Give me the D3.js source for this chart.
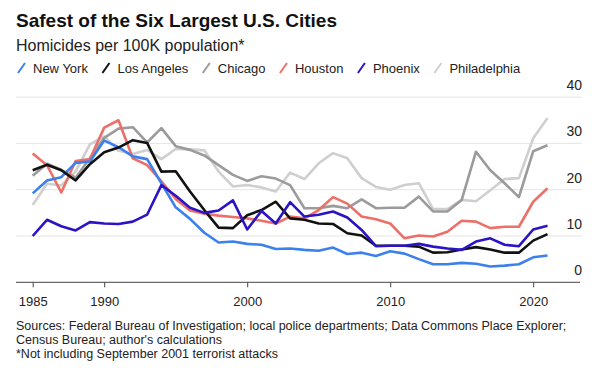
<!DOCTYPE html>
<html>
<head>
<meta charset="utf-8">
<script src="https://cdn.jsdelivr.net/npm/d3@7"></script>
<style>
  body { margin: 0; background: #fff; }
  svg { display: block; font-family: "Liberation Sans", Arial, sans-serif; }
</style>
</head>
<body>
<div id="vis"></div>
<script>
// chart values
const YEARS = [1985, 1986, 1987, 1988, 1989, 1990, 1991, 1992, 1993, 1994,
               1995, 1996, 1997, 1998, 1999, 2000, 2001, 2002, 2003, 2004,
               2005, 2006, 2007, 2008, 2009, 2010, 2011, 2012, 2013, 2014,
               2015, 2016, 2017, 2018, 2019, 2020, 2021];

const NEW_YORK = [19.2, 22.0, 22.7, 25.8, 26.1, 30.6, 29.2, 27.2, 26.6, 21.4,
                  16.2, 13.7, 10.7, 8.6, 8.8, 8.3, 8.1, 7.2, 7.3, 7.0,
                  6.8, 7.5, 6.1, 6.4, 5.7, 6.7, 6.2, 5.0, 3.9, 3.9,
                  4.2, 4.0, 3.4, 3.6, 3.9, 5.4, 5.8];
const LOS_ANGELES = [24.2, 25.4, 24.2, 22.0, 25.5, 28.1, 29.1, 30.7, 30.1, 23.9,
                     24.0, 19.6, 15.6, 11.8, 11.7, 14.5, 15.6, 17.4, 13.8, 13.5,
                     12.7, 12.6, 10.6, 10.1, 7.9, 7.9, 7.9, 7.7, 6.4, 6.5,
                     7.1, 7.6, 7.1, 6.4, 6.4, 9.0, 10.4];
const CHICAGO = [23.0, 25.6, 24.3, 22.6, 26.8, 31.2, 33.2, 33.5, 30.2, 33.3,
                 29.4, 28.6, 27.4, 25.3, 23.2, 21.9, 22.9, 22.4, 21.0, 16.0,
                 16.0, 16.5, 16.0, 17.9, 16.0, 16.1, 16.1, 18.5, 15.3, 15.3,
                 17.8, 28.2, 24.2, 21.4, 18.4, 28.3, 29.6];
const HOUSTON = [27.8, 25.3, 19.4, 26.2, 26.6, 33.4, 35.0, 26.8, 25.3, 21.8,
                 18.0, 15.5, 14.8, 14.4, 14.1, 13.8, 13.3, 12.7, 14.2, 13.8,
                 15.6, 18.4, 17.0, 14.2, 13.6, 12.7, 9.5, 10.1, 9.9, 10.9,
                 13.3, 13.1, 11.7, 12.0, 12.0, 17.4, 20.3];
const PHOENIX = [10.0, 13.5, 12.1, 11.2, 13.0, 12.7, 12.6, 13.1, 14.6, 21.0,
                 18.7, 16.1, 15.0, 15.5, 17.7, 11.4, 15.4, 12.7, 17.3, 14.2,
                 14.6, 15.3, 14.0, 11.3, 7.8, 7.9, 7.9, 8.3, 7.7, 7.3,
                 7.0, 8.8, 9.5, 8.1, 7.8, 11.4, 12.2];
const PHILADELPHIA = [16.7, 21.3, 20.9, 23.9, 29.8, 31.5, 28.4, 27.7, 28.6, 26.6,
                      28.8, 28.7, 28.5, 23.9, 20.7, 21.0, 20.5, 19.6, 23.7, 22.3,
                      25.7, 27.9, 26.8, 22.5, 20.6, 20.0, 21.0, 21.4, 15.8, 15.8,
                      17.8, 17.5, 19.9, 22.3, 22.5, 31.1, 35.5];

const CITIES = ["New York", "Los Angeles", "Chicago", "Houston", "Phoenix", "Philadelphia"];
const X_TICKS = [1985, 1990, 2000, 2010, 2020];
const Y_TICKS = [0, 10, 20, 30, 40];

const COLORS = {
  "New York": "#3c80ee",
  "Los Angeles": "#111111",
  "Chicago": "#9b9b9b",
  "Houston": "#ec7068",
  "Phoenix": "#2b13c6",
  "Philadelphia": "#cfcfcf"
};

const series = [
  {name: "Philadelphia", values: PHILADELPHIA},
  {name: "Chicago", values: CHICAGO},
  {name: "Houston", values: HOUSTON},
  {name: "New York", values: NEW_YORK},
  {name: "Los Angeles", values: LOS_ANGELES},
  {name: "Phoenix", values: PHOENIX}
];

const FRAME_WIDTH = 600;
const FRAME_HEIGHT = 368;

const svg = d3.select("#vis")
  .append("svg")
    .attr("width", FRAME_WIDTH)
    .attr("height", FRAME_HEIGHT);

const X_SCALE = d3.scaleLinear().domain([1985, 2021]).range([32.7, 547.5]);
const Y_SCALE = d3.scaleLinear().domain([0, 40]).range([282.3, 97.1]);

// title block
svg.append("text")
  .attr("x", 16).attr("y", 27)
  .attr("font-size", 19).attr("font-weight", "bold").attr("fill", "#111")
  .text("Safest of the Six Largest U.S. Cities");

svg.append("text")
  .attr("x", 16).attr("y", 51)
  .attr("font-size", 16).attr("fill", "#222")
  .text("Homicides per 100K population*");

// legend, laid out from measured text widths
let lx = 18;
CITIES.forEach((c) => {
  const g = svg.append("g");
  g.append("line")
    .attr("x1", lx).attr("y1", 73)
    .attr("x2", lx + 7).attr("y2", 63)
    .attr("stroke", COLORS[c]).attr("stroke-width", 2);
  const t = g.append("text")
    .attr("x", lx + 15).attr("y", 73)
    .attr("font-size", 13).attr("fill", "#222")
    .text(c);
  lx = lx + 15 + t.node().getComputedTextLength() + 14.5;
});

// gridlines + right-side labels
svg.append("g")
  .selectAll("line")
  .data(Y_TICKS.filter((d) => d > 0))
  .enter()
  .append("line")
    .attr("x1", 16).attr("x2", 582)
    .attr("y1", (d) => Y_SCALE(d)).attr("y2", (d) => Y_SCALE(d))
    .attr("stroke", "#e6e6e6").attr("stroke-width", 1);

svg.append("g")
  .selectAll("text")
  .data(Y_TICKS)
  .enter()
  .append("text")
    .attr("x", 582)
    .attr("y", (d) => Y_SCALE(d) - 7)
    .attr("text-anchor", "end")
    .attr("font-size", 14).attr("fill", "#222")
    .text((d) => d);

// lines
const line = d3.line()
  .x((d, i) => X_SCALE(YEARS[i]))
  .y((d) => Y_SCALE(d));

svg.append("g")
  .selectAll("path")
  .data(series)
  .enter()
  .append("path")
    .attr("d", (d) => line(d.values))
    .attr("fill", "none")
    .attr("stroke", (d) => COLORS[d.name])
    .attr("stroke-width", 2.6)
    .attr("stroke-linejoin", "round");

// x axis
const xAxis = svg.append("g")
  .attr("transform", "translate(0," + Y_SCALE(0) + ")")
  .call(d3.axisBottom(X_SCALE).tickValues(X_TICKS).tickFormat(d3.format("d")).tickSize(5).tickPadding(9));
xAxis.select(".domain").remove();
xAxis.selectAll(".tick line").attr("stroke", "#444");
xAxis.selectAll(".tick text")
  .attr("font-family", "Liberation Sans, Arial, sans-serif")
  .attr("font-size", 13).attr("fill", "#222");
xAxis.append("line")
  .attr("x1", 16).attr("x2", 580)
  .attr("stroke", "#444").attr("stroke-width", 1);

// footnotes
const NOTES = [
  "Sources: Federal Bureau of Investigation; local police departments; Data Commons Place Explorer;",
  "Census Bureau; author's calculations",
  "*Not including September 2001 terrorist attacks"
];
svg.append("g")
  .selectAll("text")
  .data(NOTES)
  .enter()
  .append("text")
    .attr("x", 16)
    .attr("y", (d, i) => 330 + i * 14)
    .attr("font-size", 12.5).attr("fill", "#222")
    .text((d) => d);
</script>
</body>
</html>
